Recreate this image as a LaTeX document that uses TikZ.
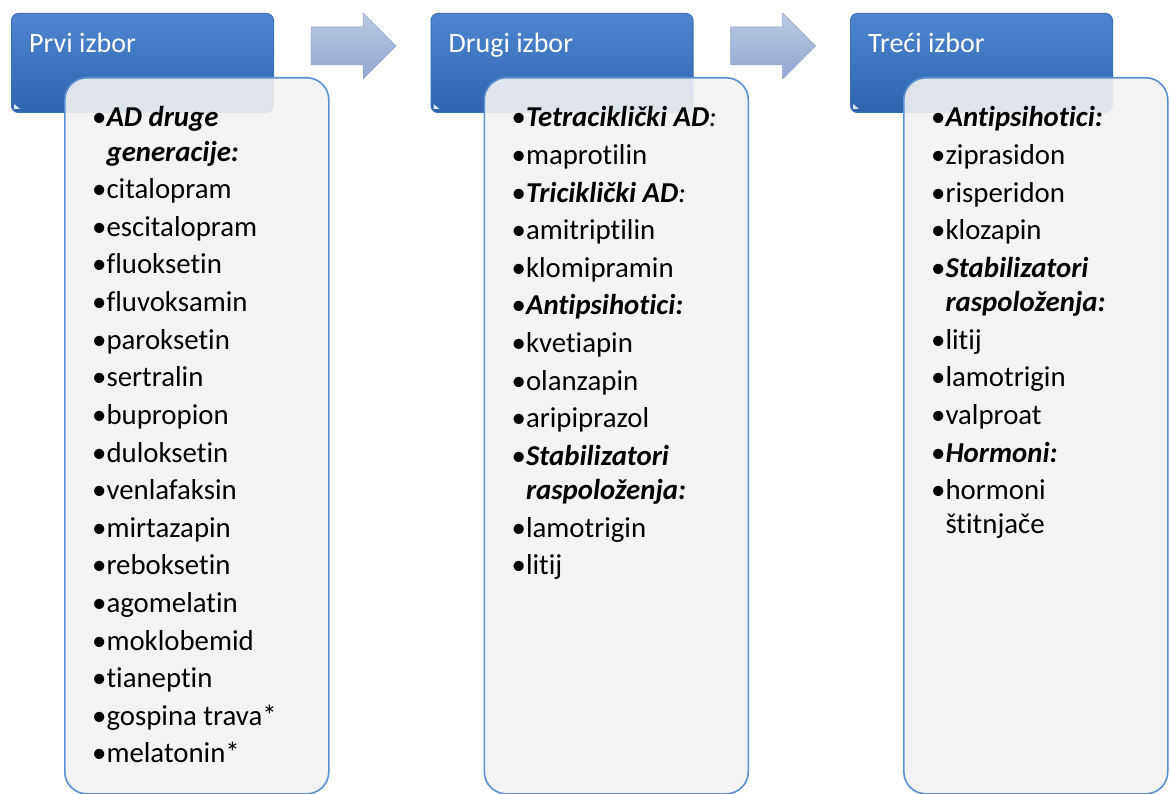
\documentclass[tikz,border=0pt]{standalone}
\usepackage{fontspec}
\setmainfont[RawFeature={-liga;-clig;-dlig}]{Carlito}
\newcommand{\bitx}[1]{\textbf{\textit{#1}}}
\definecolor{hdtop}{HTML}{4F86CF}
\definecolor{hdbot}{HTML}{2F64AD}
\definecolor{hdline}{HTML}{3B6EB6}
\definecolor{boxfill}{HTML}{F2F2F2}
\definecolor{boxline}{HTML}{5B8FD0}
\definecolor{arrtop}{HTML}{BCC8E3}
\definecolor{arrbot}{HTML}{93A7D1}
\definecolor{arrline}{HTML}{8EA2CC}
\begin{document}
\begin{tikzpicture}[x=1pt,y=-1pt,
  header/.style={draw=hdline, line width=1pt, rounded corners=7pt, top color=hdtop, bottom color=hdbot,
    minimum width=262pt, minimum height=99pt, anchor=north west, inner sep=0pt},
  listbox/.style={draw=boxline, line width=1.6pt, rounded corners=22pt, fill=boxfill, fill opacity=0.9,
    draw opacity=1, minimum width=264pt, minimum height=716pt, anchor=north west, inner sep=0pt},
  htext/.style={anchor=base west, inner sep=0pt, text=white, font=\fontsize{28}{34}\selectfont},
  item/.style={anchor=base west, inner sep=0pt, font=\fontsize{28.8}{34}\selectfont},
  barrow/.style={top color=arrtop, bottom color=arrbot, draw=arrline, line width=0.5pt},
  bev/.style={fill=white, fill opacity=0.85, draw=none}
]
\useasboundingbox (0,0) rectangle (1170,794);

% arrows
\path[barrow] (311,27) -- (363,27) -- (363,13) -- (396,46) -- (363,79) -- (363,65) -- (311,65) -- cycle;
\path[barrow] (730.5,27) -- (782.5,27) -- (782.5,13) -- (815.5,46) -- (782.5,79) -- (782.5,65) -- (730.5,65) -- cycle;

% headers
\node[header] (h1) at (11,13) {};
\node[header] (h2) at (430.5,13) {};
\node[header] (h3) at (850,13) {};
\path[bev] (14,109) -- (14,104) -- (20,109) -- cycle;
\path[bev] (433.5,109) -- (433.5,104) -- (439.5,109) -- cycle;
\path[bev] (853,109) -- (853,104) -- (859,109) -- cycle;
\node[htext] (t1) at (29,53) {Prvi izbor};
\node[htext] (t2) at (448.5,53) {Drugi izbor};
\node[htext] (t3) at (868,53) {Treći izbor};

% list boxes
\node[listbox] (b1) at (64,77) {};
\node[listbox] (b2) at (483.5,77) {};
\node[listbox] (b3) at (903,77) {};

% column 1
\foreach \y/\t [count=\i] in {
  127/{•\bitx{AD druge}},
  161.2/{\phantom{•}\bitx{generacije:}},
  198.8/{•citalopram},
  236.4/{•escitalopram},
  274/{•fluoksetin},
  311.6/{•fluvoksamin},
  349.2/{•paroksetin},
  386.8/{•sertralin},
  424.4/{•bupropion},
  462/{•duloksetin},
  499.6/{•venlafaksin},
  537.2/{•mirtazapin},
  574.8/{•reboksetin},
  612.4/{•agomelatin},
  650/{•moklobemid},
  687.6/{•tianeptin},
  725.2/{•gospina trava*},
  762.8/{•melatonin*}}
  \node[item] (ca\i) at (92,\y) {\t};

% column 2
\foreach \y/\t [count=\i] in {
  127/{•\bitx{Tetraciklički AD}\textit{:}},
  164.6/{•maprotilin},
  202.2/{•\bitx{Triciklički AD}\textit{:}},
  239.8/{•amitriptilin},
  277.4/{•klomipramin},
  315/{•\bitx{Antipsihotici:}},
  352.6/{•kvetiapin},
  390.2/{•olanzapin},
  427.8/{•aripiprazol},
  465.4/{•\bitx{Stabilizatori}},
  499.6/{\phantom{•}\bitx{raspoloženja:}},
  537.2/{•lamotrigin},
  574.8/{•litij}}
  \node[item] (cb\i) at (511.5,\y) {\t};

% column 3
\foreach \y/\t [count=\i] in {
  127/{•\bitx{Antipsihotici:}},
  164.6/{•ziprasidon},
  202.2/{•risperidon},
  239.8/{•klozapin},
  277.4/{•\bitx{Stabilizatori}},
  311.6/{\phantom{•}\bitx{raspoloženja:}},
  349.2/{•litij},
  386.8/{•lamotrigin},
  424.4/{•valproat},
  462/{•\bitx{Hormoni:}},
  499.6/{•hormoni},
  533.8/{\phantom{•}štitnjače}}
  \node[item] (cc\i) at (931,\y) {\t};
\end{tikzpicture}
\end{document}
